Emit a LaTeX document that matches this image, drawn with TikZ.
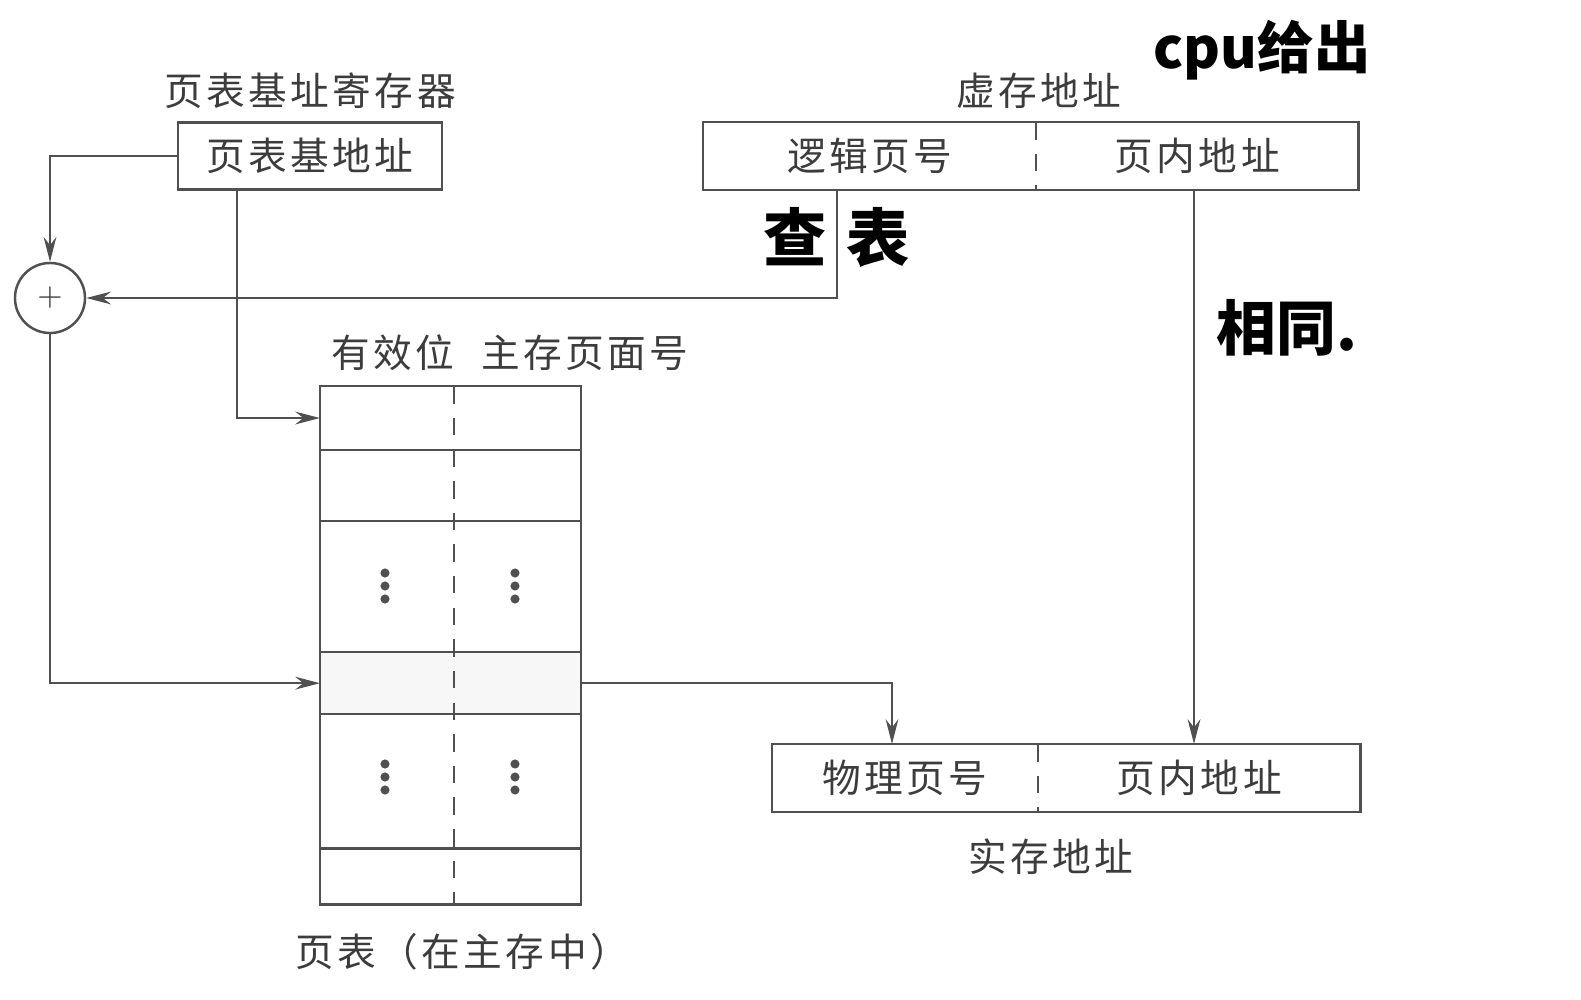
\documentclass[tikz,border=0pt]{standalone}
\usepackage{fontspec}
\usepackage{tikz}
\usetikzlibrary{arrows.meta, positioning}
\setmainfont{Noto Sans CJK SC}
\newfontfamily\cjk[LetterSpace=9]{Noto Sans CJK SC}
\newfontfamily\hand{Noto Sans CJK SC}
\definecolor{inkgray}{HTML}{505050}
\definecolor{txtgray}{HTML}{3C3C3C}

\begin{document}
\begin{tikzpicture}[
  x=0.01cm, y=-0.01cm,
  line width=0.7pt,
  draw=inkgray,
  font=\cjk\fontsize{11}{13}\selectfont,
  text=txtgray,
  arr/.style={draw=inkgray, -{Stealth[length=7pt, width=3.6pt]}},
  field/.style={minimum height=0.68cm, inner sep=0pt, outer sep=0pt, anchor=north west},
  regbox/.style={draw=inkgray, minimum height=0.67cm, minimum width=2.64cm, inner sep=0pt},
  tabrow/.style={minimum width=2.61cm, inner sep=0pt, outer sep=0pt, anchor=north west},
  handtxt/.style={font=\hand\bfseries\fontsize{18}{20}\selectfont, text=black},
  vdot/.style={fill=inkgray, circle, inner sep=0pt, minimum size=2.6pt}
]
\useasboundingbox (0,0) rectangle (1581,1000);

% page table base register
\node (baselabel) at (310,91) {页表基址寄存器};
\node[regbox] (base) at (310,156) {页表基地址};

% virtual address
\node (vlabel) at (1039,91) {虚存地址};
\node[field, minimum width=3.33cm] (lpn) at (703,122) {逻辑页号};
\node[field, minimum width=3.22cm] (voff) at (lpn.north east) {页内地址};
\draw (lpn.north west) rectangle (voff.south east);
\draw[dashed, dash pattern=on 5pt off 4pt] (lpn.north east) -- (lpn.south east);

% adder
\node[draw=inkgray, circle, minimum size=0.70cm, inner sep=0pt, font=\small] (add) at (50,298) {$+$};

% page table
\node (validlabel) at (393,353) {有效位};
\node (framelabel) at (585,353) {主存页面号};
\node[tabrow, minimum height=0.64cm] (row1) at (320,386) {};
\node[tabrow, minimum height=0.71cm] (row2) at (row1.south west) {};
\node[tabrow, minimum height=1.31cm] (row3) at (row2.south west) {};
\node[tabrow, minimum height=0.62cm, fill=black!3] (row4) at (row3.south west) {};
\node[tabrow, minimum height=1.34cm] (row5) at (row4.south west) {};
\node[tabrow, minimum height=0.56cm] (row6) at (row5.south west) {};
\draw (row1.north west) rectangle (row6.south east);
\foreach \r in {row1,row2,row3,row4,row5}
  \draw (\r.south west) -- (\r.south east);
\draw[dashed, dash pattern=on 5pt off 4pt] (row1.north -| 454,0) -- (row6.south -| 454,0);
\foreach \dx in {385,515}
  \foreach \dy in {586,777}
    \foreach \k in {-13,0,13}
      \node[vdot] at (\dx,\dy+\k) {};
\node (tablabel) at (462,952) {页表（在主存中）};

% physical address
\node[field, minimum width=2.66cm] (ppn) at (772,744) {物理页号};
\node[field, minimum width=3.22cm] (poff) at (ppn.north east) {页内地址};
\draw (ppn.north west) rectangle (poff.south east);
\draw[dashed, dash pattern=on 5pt off 4pt] (ppn.north east) -- (ppn.south east);
\node (plabel) at (1051,857) {实存地址};

% handwritten notes
\node[handtxt, font=\hand\bfseries\fontsize{16}{18}\selectfont] (cpunote) at (1262,50) {cpu给出};
\node[handtxt] (cha) at (795,237) {查};
\node[handtxt] (biao) at (878,237) {表};
\node[handtxt, font=\hand\bfseries\fontsize{17}{19}\selectfont] (samenote) at (1287,328) {相同.};

% connectors
\coordinate (lk) at (837,190);
\coordinate (bk) at (237,190);
\coordinate (pk) at (892,744);
\coordinate (ok) at (1194,190);
\coordinate (ok2) at (1194,744);
\draw[arr] (base.west) -| (add.north);
\draw[arr] (lk) |- (add.east);
\draw[arr] (bk) |- (row1.west);
\draw[arr] (add.south) |- (row4.west);
\draw[arr] (row4.east) -| (pk);
\draw[arr] (ok) -- (ok2);
\end{tikzpicture}
\end{document}
